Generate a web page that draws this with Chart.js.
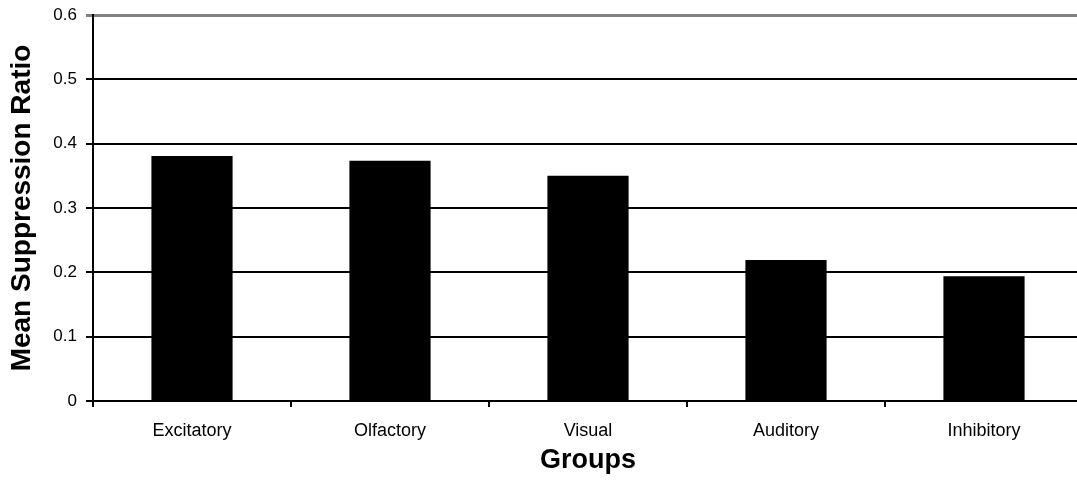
<!DOCTYPE html>
<html>
<head>
<meta charset="utf-8">
<script src="https://cdn.jsdelivr.net/npm/chart.js@4/dist/chart.umd.min.js"></script>
<style>
  html, body { margin: 0; padding: 0; overflow: hidden; background: #fff; }
  #wrap { width: 1077px; height: 480px; overflow: hidden; }
  canvas { display: block; }
</style>
</head>
<body>
<div id="wrap"><canvas id="c" width="1090" height="480"></canvas></div>
<script>
const categories = ["Excitatory", "Olfactory", "Visual", "Auditory", "Inhibitory"];
const meanSuppression = [0.381, 0.3735, 0.35, 0.219, 0.194];
const yTicks = [0, 0.1, 0.2, 0.3, 0.4, 0.5, 0.6];

const FONT = "'Liberation Sans', Arial, sans-serif";

new Chart(document.getElementById('c'), {
  type: 'bar',
  data: {
    labels: categories,
    datasets: [{
      data: meanSuppression,
      backgroundColor: '#000000',
      borderWidth: 0,
      categoryPercentage: 1.0,
      barPercentage: 0.41
    }]
  },
  options: {
    responsive: false,
    animation: false,
    devicePixelRatio: 1,
    layout: { padding: { top: 15, right: 7, left: 0, bottom: 0 } },
    plugins: { legend: { display: false }, tooltip: { enabled: false } },
    scales: {
      x: {
        offset: true,
        grid: {
          offset: true,
          drawOnChartArea: false,
          drawTicks: true,
          tickLength: 6,
          color: '#000',
          lineWidth: 2
        },
        border: { display: true, color: '#000', width: 2 },
        ticks: {
          color: '#000',
          font: { family: FONT, size: 18 },
          padding: 13,
          maxRotation: 0
        },
        title: {
          display: true,
          text: 'Groups',
          color: '#000',
          font: { family: FONT, size: 27, weight: 'bold' },
          padding: { top: 0, bottom: 3 }
        },
        afterFit: (s) => { s.height = 79; }
      },
      y: {
        min: 0,
        max: 0.6,
        afterBuildTicks: (s) => { s.ticks = yTicks.map(v => ({ value: v })); },
        grid: {
          drawTicks: true,
          tickLength: 7,
          color: (ctx) => (ctx.tick && ctx.tick.value === 0.6) ? '#808080' : '#000',
          lineWidth: (ctx) => (ctx.tick && ctx.tick.value === 0.6) ? 3 : 2
        },
        border: { display: true, color: '#000', width: 2 },
        ticks: {
          color: '#000',
          font: { family: FONT, size: 17 },
          padding: 9,
          callback: (v) => String(+Number(v).toFixed(1))
        },
        title: {
          display: true,
          text: 'Mean Suppression Ratio',
          color: '#000',
          font: { family: FONT, size: 28, weight: 'bold' },
          padding: { top: 5, bottom: 0 }
        },
        afterFit: (s) => { s.width = 93; s.paddingTop = 0; s.paddingBottom = 0; }
      }
    }
  }
});
</script>
</body>
</html>
